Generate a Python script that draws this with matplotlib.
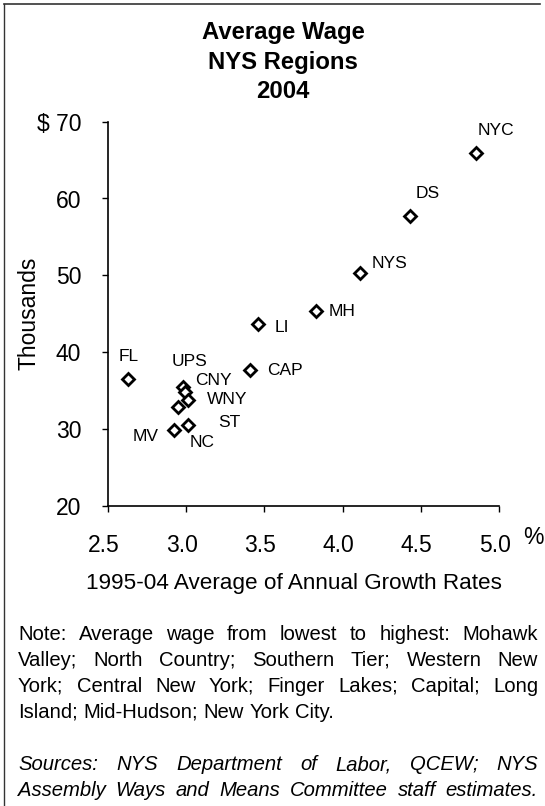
import matplotlib
matplotlib.use("Agg")
import matplotlib.pyplot as plt
from matplotlib.lines import Line2D
from matplotlib.transforms import ScaledTranslation

plt.rcParams['font.family'] = ['Liberation Sans', 'DejaVu Sans']

# ---------------- data ----------------
regions = ["NYC", "DS", "NYS", "MH", "LI", "CAP", "FL", "UPS", "CNY", "WNY", "ST", "NC", "MV"]
growth = [4.85, 4.43, 4.11, 3.83, 3.46, 3.41, 2.63, 2.98, 2.99, 3.01, 2.95, 3.01, 2.92]
wage = [65.9, 57.7, 50.3, 45.4, 43.7, 37.7, 36.5, 35.4, 34.8, 33.8, 32.9, 30.5, 29.8]

x_ticks = [2.5, 3.0, 3.5, 4.0, 4.5, 5.0]
x_tick_labels = ["2.5", "3.0", "3.5", "4.0", "4.5", "5.0"]
y_ticks = [20, 30, 40, 50, 60, 70]
y_tick_labels = ["20", "30", "40", "50", "60", "$ 70"]

title_lines = ["Average Wage", "NYS Regions", "2004"]
x_label = "1995-04 Average of Annual Growth Rates"
y_label = "Thousands"
note_lines = [
    "Note: Average wage from lowest to highest: Mohawk",
    "Valley; North Country; Southern Tier; Western New",
    "York; Central New York; Finger Lakes; Capital; Long",
    "Island; Mid-Hudson; New York City.",
]
source_lines = [
    "Sources:  NYS Department of Labor, QCEW; NYS",
    "Assembly Ways and Means Committee staff estimates.",
]

# label offsets (points) relative to each marker
label_offsets = {
    "NYC": (14.9, 16.3), "DS": (13.2, 16.3), "NYS": (21.6, 6.8), "MH": (18.7, -0.5),
    "LI": (17.3, -3.1), "CAP": (25.2, -0.5), "FL": (0.4, 16.3), "UPS": (4.8, 18.4),
    "CNY": (20.4, 8.4), "WNY": (28.4, 0.0), "ST": (36.7, -11.5), "NC": (10.4, -12.7),
    "MV": (-19.9, -4.3),
}

# ---------------- figure ----------------
W, H = 545, 806
fig = plt.figure(figsize=(W / 100, H / 100), dpi=100)
fig.patch.set_facecolor("white")

ax_left, ax_right, ax_top, ax_bottom = 108, 499, 121.7, 505.7
ax = fig.add_axes([ax_left / W, 1 - ax_bottom / H, (ax_right - ax_left) / W, (ax_bottom - ax_top) / H])

ax.plot(growth, wage, linestyle="none", marker="D", markersize=6.5,
        markerfacecolor="white", markeredgecolor="black", markeredgewidth=2.0, clip_on=False)
for name, gx, wy in zip(regions, growth, wage):
    dx, dy = label_offsets[name]
    ax.annotate(name, (gx, wy), xytext=(dx, dy), textcoords="offset points",
                ha="center", va="center", fontsize=12.5)

ax.set_xlim(2.5, 5.0)
ax.set_ylim(20, 70)
ax.set_xticks(x_ticks)
ax.set_xticklabels(x_tick_labels)
ax.set_yticks(y_ticks)
ax.set_yticklabels(y_tick_labels)
for s in ["top", "right"]:
    ax.spines[s].set_visible(False)
for s in ["left", "bottom"]:
    ax.spines[s].set_linewidth(1.2)
ax.tick_params(axis="both", direction="out", length=4.3, width=1.0, labelsize=16.5)
ax.tick_params(axis="x", pad=16)
ax.tick_params(axis="y", pad=15)
shift = ScaledTranslation(-4 / 100, 0, fig.dpi_scale_trans)
for lbl in ax.get_xticklabels():
    lbl.set_transform(lbl.get_transform() + shift)

# % sign next to the x axis
fig.text(533 / W, 1 - 537 / H, "%", fontsize=16.5, ha="center", va="center")

# titles
for txt, yc in zip(title_lines, [33, 63, 92]):
    fig.text(283 / W, 1 - yc / H, txt, fontsize=17.2, fontweight="bold", ha="center", va="center")

fig.text(294 / W, 1 - 583 / H, x_label, fontsize=16.2, ha="center", va="center")
fig.text(29 / W, 1 - 313 / H, y_label, fontsize=16.5, ha="center", va="center", rotation=90)

# frame lines (left and top)
fig.add_artist(Line2D([4 / W, 4 / W], [0, 1 - 4 / H], transform=fig.transFigure, color="#333333", lw=1.0))
fig.add_artist(Line2D([4 / W, 540 / W], [1 - 4 / H, 1 - 4 / H], transform=fig.transFigure, color="#333333", lw=1.2))

# justified text block
renderer = fig.canvas.get_renderer()


def put_lines(lines, ys, x0, x1, size, style, justify_last):
    for i, (line, y) in enumerate(zip(lines, ys)):
        words = line.split()
        texts = [fig.text(0, 1 - y / H, w, fontsize=size, style=style, ha="left", va="center")
                 for w in words]
        widths = [t.get_window_extent(renderer).width for t in texts]
        last = i == len(lines) - 1
        if (not last or justify_last) and len(words) > 1:
            gap = (x1 - x0 - sum(widths)) / (len(words) - 1)
        else:
            gap = size * 0.278 * 100 / 72
        x = x0
        for t, w in zip(texts, widths):
            t.set_x(x / W)
            x += w + gap


put_lines(note_lines, [634, 660, 686, 712], 18, 538, 14.6, "normal", False)
put_lines(source_lines, [765, 791], 18, 538, 14.6, "italic", True)

fig.savefig("out.png", dpi=100)
